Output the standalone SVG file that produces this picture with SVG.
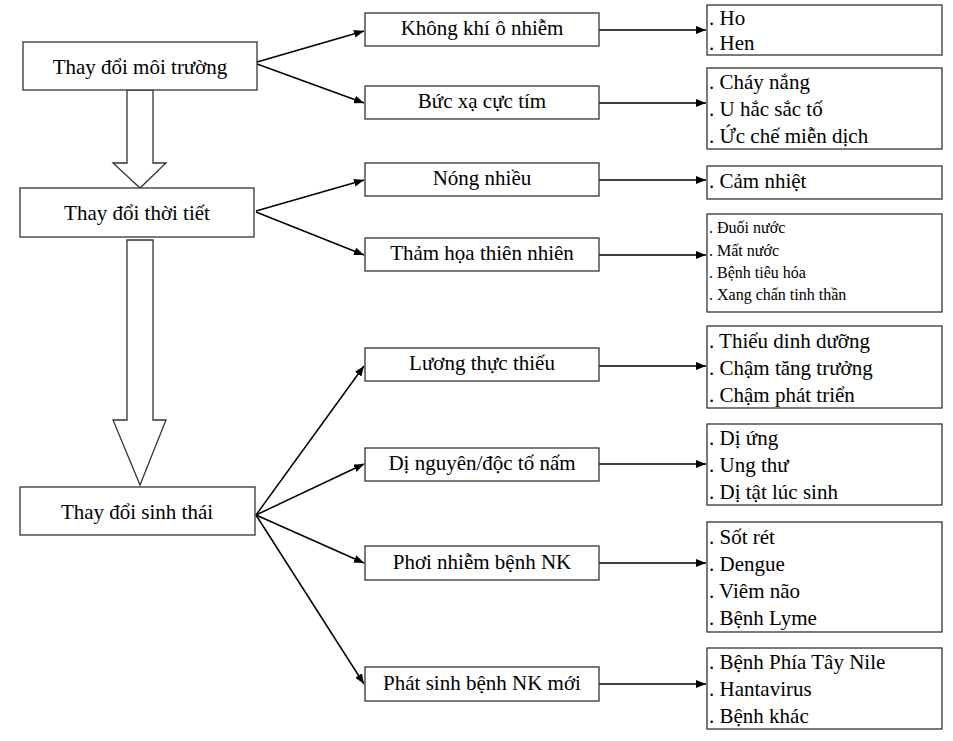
<svg xmlns="http://www.w3.org/2000/svg" width="953" height="741" viewBox="0 0 953 741">
<defs><marker id="a" markerWidth="10" markerHeight="8" refX="10" refY="4" orient="auto" markerUnits="userSpaceOnUse"><path d="M0,0 L10,4 L0,8 z" fill="#000"/></marker></defs>
<style>
rect{fill:#fff;stroke:#333;stroke-width:1.3}
text{font-family:"Liberation Serif",serif;font-size:21px;fill:#000}
.c{text-anchor:middle}
.s{font-size:16px}
#conn line{stroke:#000;stroke-width:1.5;marker-end:url(#a)}
.h{fill:#fff;stroke:#333;stroke-width:1.3}
</style>
<rect width="953" height="741" style="stroke:none"/>
<g id="hollow">
<path class="h" d="M127,90 V163 H113 L140,188 L166,163 H153 V90 Z"/>
<path class="h" d="M127,240 V420 H113 L140,485 L166,420 H153 V240 Z"/>
</g>
<g id="conn">
<line x1="257" y1="62" x2="364" y2="31"/>
<line x1="257" y1="64" x2="364" y2="103"/>
<line x1="256" y1="211" x2="364" y2="180"/>
<line x1="256" y1="212" x2="364" y2="255"/>
<line x1="256" y1="515" x2="364" y2="366"/>
<line x1="256" y1="515" x2="364" y2="464"/>
<line x1="256" y1="515" x2="364" y2="563"/>
<line x1="256" y1="515" x2="364" y2="684"/>
<line x1="599" y1="30" x2="706" y2="30"/>
<line x1="599" y1="103" x2="706" y2="103"/>
<line x1="599" y1="180" x2="706" y2="180"/>
<line x1="599" y1="255" x2="706" y2="255"/>
<line x1="599" y1="366" x2="706" y2="366"/>
<line x1="599" y1="464" x2="706" y2="464"/>
<line x1="599" y1="563" x2="706" y2="563"/>
<line x1="599" y1="684" x2="706" y2="684"/>
</g>
<g id="n1"><rect x="23" y="42" width="234" height="48"/><text class="c" x="140" y="74">Thay đổi môi trường</text></g>
<g id="n2"><rect x="20" y="188" width="234" height="49"/><text class="c" x="137" y="220">Thay đổi thời tiết</text></g>
<g id="n3"><rect x="20" y="487" width="235" height="48"/><text class="c" x="137" y="519">Thay đổi sinh thái</text></g>
<g id="m1"><rect x="365" y="13" width="234" height="33"/><text class="c" x="482" y="35">Không khí ô nhiễm</text></g>
<g id="m2"><rect x="365" y="86" width="234" height="33"/><text class="c" x="482" y="108">Bức xạ cực tím</text></g>
<g id="m3"><rect x="365" y="163" width="234" height="33"/><text class="c" x="482" y="185">Nóng nhiều</text></g>
<g id="m4"><rect x="365" y="238" width="234" height="33"/><text class="c" x="482" y="260">Thảm họa thiên nhiên</text></g>
<g id="m5"><rect x="365" y="348" width="234" height="33"/><text class="c" x="482" y="370">Lương thực thiếu</text></g>
<g id="m6"><rect x="365" y="448" width="234" height="33"/><text class="c" x="482" y="470">Dị nguyên/độc tố nấm</text></g>
<g id="m7"><rect x="365" y="546" width="234" height="34"/><text class="c" x="482" y="569">Phơi nhiễm bệnh NK</text></g>
<g id="m8"><rect x="365" y="667" width="234" height="34"/><text class="c" x="482" y="690">Phát sinh bệnh NK mới</text></g>
<g id="r1"><rect x="707" y="5" width="235" height="50"/><text x="709" y="25">. Ho</text><text x="709" y="50">. Hen</text></g>
<g id="r2"><rect x="707" y="68" width="235" height="81"/><text x="709" y="89">. Cháy nắng</text><text x="709" y="116">. U hắc sắc tố</text><text x="709" y="143">. Ức chế miễn dịch</text></g>
<g id="r3"><rect x="707" y="166" width="235" height="33"/><text x="709" y="188">. Cảm nhiệt</text></g>
<g id="r4"><rect x="707" y="214" width="235" height="98"/><text class="s" x="709" y="233">. Đuối nước</text><text class="s" x="709" y="256">. Mất nước</text><text class="s" x="709" y="278">. Bệnh tiêu hóa</text><text class="s" x="709" y="300">. Xang chấn tinh thần</text></g>
<g id="r5"><rect x="707" y="326" width="235" height="82"/><text x="709" y="348">. Thiếu dinh dưỡng</text><text x="709" y="375">. Chậm tăng trưởng</text><text x="709" y="402">. Chậm phát triển</text></g>
<g id="r6"><rect x="707" y="424" width="235" height="81"/><text x="709" y="445">. Dị ứng</text><text x="709" y="472">. Ung thư</text><text x="709" y="499">. Dị tật lúc sinh</text></g>
<g id="r7"><rect x="707" y="522" width="235" height="110"/><text x="709" y="544">. Sốt rét</text><text x="709" y="571">. Dengue</text><text x="709" y="598">. Viêm não</text><text x="709" y="625">. Bệnh Lyme</text></g>
<g id="r8"><rect x="707" y="648" width="235" height="81"/><text x="709" y="669">. Bệnh Phía Tây Nile</text><text x="709" y="696">. Hantavirus</text><text x="709" y="723">. Bệnh khác</text></g>
</svg>
